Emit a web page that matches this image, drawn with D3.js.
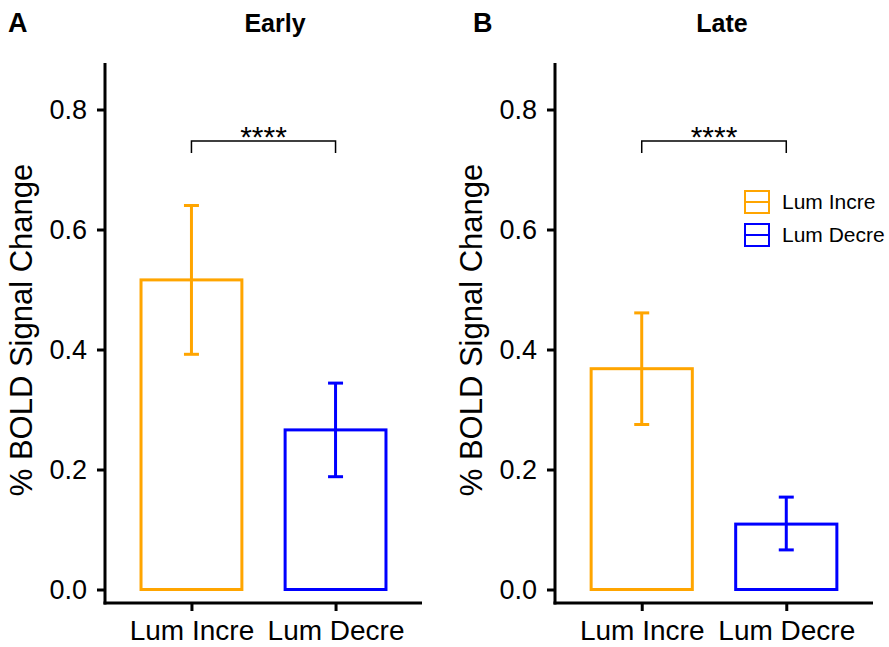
<!DOCTYPE html>
<html>
<head>
<meta charset="utf-8">
<script src="https://cdn.jsdelivr.net/npm/d3@7"></script>
<style>
  body { margin: 0; background: #fff; }
  text { font-family: "Liberation Sans", Arial, sans-serif; }
</style>
</head>
<body>
<div id="chart"></div>
<script>
// Categories and values.
const conditions = ["Lum Incre", "Lum Decre"];
const earlyMean = [0.516, 0.266];
const earlyLow = [0.392, 0.188];
const earlyHigh = [0.640, 0.344];
const lateMean = [0.368, 0.109];
const lateLow = [0.275, 0.066];
const lateHigh = [0.461, 0.154];
const yTicks = [0, 0.2, 0.4, 0.6, 0.8];
const COLORS = ["orange", "blue"];

const WIDTH = 889;
const HEIGHT = 647;

const svg = d3
  .select("#chart")
  .append("svg")
  .attr("width", WIDTH)
  .attr("height", HEIGHT);

// Shared y scale: 0 sits a little above the x axis line.
const y = d3.scaleLinear().domain([-0.0225, 0.8775]).range([603, 63]);

const panels = [
  { letter: "A", letterX: 8, title: "Early", titleX: 275, left: 105, right: 422, mean: earlyMean, low: earlyLow, high: earlyHigh, legend: false },
  { letter: "B", letterX: 473, title: "Late", titleX: 722, left: 555, right: 873, mean: lateMean, low: lateLow, high: lateHigh, legend: true },
];

panels.forEach((p) => drawPanel(p));

function drawPanel(p) {
  const x = d3.scalePoint().domain(conditions).range([p.left, p.right]).padding(0.6);
  const bw = x.step() * 0.7;
  const g = svg.append("g");

  // Letter and title
  g.append("text")
    .attr("x", p.letterX)
    .attr("y", 32)
    .style("font-size", "27px")
    .style("font-weight", "bold")
    .text(p.letter);
  g.append("text")
    .attr("x", p.titleX)
    .attr("y", 32)
    .attr("text-anchor", "middle")
    .style("font-size", "25px")
    .style("font-weight", "bold")
    .text(p.title);

  // Bars
  const data = conditions.map((c, i) => ({ c: c, m: p.mean[i], lo: p.low[i], hi: p.high[i], col: COLORS[i] }));
  g.selectAll("rect.bar")
    .data(data)
    .enter()
    .append("rect")
    .attr("class", "bar")
    .attr("x", (d) => x(d.c) - bw / 2)
    .attr("width", bw)
    .attr("y", (d) => y(d.m))
    .attr("height", (d) => y(0) - y(d.m))
    .style("fill", "none")
    .style("stroke", (d) => d.col)
    .style("stroke-width", 3);

  // Error bars
  const eb = g.selectAll("g.err").data(data).enter().append("g").attr("class", "err");
  eb.append("line")
    .attr("x1", (d) => x(d.c))
    .attr("x2", (d) => x(d.c))
    .attr("y1", (d) => y(d.lo))
    .attr("y2", (d) => y(d.hi));
  eb.append("line")
    .attr("x1", (d) => x(d.c) - 7.5)
    .attr("x2", (d) => x(d.c) + 7.5)
    .attr("y1", (d) => y(d.hi))
    .attr("y2", (d) => y(d.hi));
  eb.append("line")
    .attr("x1", (d) => x(d.c) - 7.5)
    .attr("x2", (d) => x(d.c) + 7.5)
    .attr("y1", (d) => y(d.lo))
    .attr("y2", (d) => y(d.lo));
  eb.selectAll("line").style("stroke", (d) => d.col).style("stroke-width", 3);

  // Axes
  const yAxis = g
    .append("g")
    .attr("transform", "translate(" + p.left + ",0)")
    .call(d3.axisLeft(y).tickValues(yTicks).tickFormat(d3.format(".1f")).tickSize(8).tickSizeOuter(0).tickPadding(10));
  const xAxis = g
    .append("g")
    .attr("transform", "translate(0,603)")
    .call(d3.axisBottom(x).tickSize(8).tickSizeOuter(0).tickPadding(9));
  [yAxis, xAxis].forEach((a) => {
    a.selectAll("path, line").style("stroke", "#000").style("stroke-width", 3);
    a.selectAll("text").style("fill", "#000").style("font-family", "'Liberation Sans', Arial, sans-serif");
  });
  yAxis.selectAll("text").style("font-size", "27px");
  xAxis.selectAll("text").style("font-size", "28px");
  yAxis.select(".domain").attr("d", "M0," + (y.range()[1]) + "V" + (y.range()[0] + 1.5));
  xAxis.select(".domain").attr("d", "M" + (p.left - 1.5) + ",0H" + p.right);

  // Y title
  g.append("text")
    .attr("transform", "translate(" + (p.left - 73) + "," + 330 + ") rotate(-90)")
    .attr("text-anchor", "middle")
    .style("font-size", "31px")
    .text("% BOLD Signal Change");

  // Significance bracket
  const x1 = x(conditions[0]);
  const x2 = x(conditions[1]);
  const by = 141;
  g.append("path")
    .attr("d", "M" + x1 + "," + (by + 12) + "V" + by + "H" + x2 + "V" + (by + 12))
    .style("fill", "none")
    .style("stroke", "#000")
    .style("stroke-width", 1.5);
  g.append("text")
    .attr("x", (x1 + x2) / 2)
    .attr("y", by + 6)
    .attr("text-anchor", "middle")
    .style("font-size", "30px")
    .text("****");

  if (p.legend) drawLegend(g);
}

function drawLegend(g) {
  const items = g
    .selectAll("g.leg")
    .data(conditions)
    .enter()
    .append("g")
    .attr("class", "leg")
    .attr("transform", (d, i) => "translate(745," + (191 + i * 33) + ")");
  items
    .append("rect")
    .attr("width", 24)
    .attr("height", 22)
    .style("fill", "none")
    .style("stroke", (d, i) => COLORS[i])
    .style("stroke-width", 2);
  items
    .append("line")
    .attr("x1", 1)
    .attr("x2", 23)
    .attr("y1", 11)
    .attr("y2", 11)
    .style("stroke", (d, i) => COLORS[i])
    .style("stroke-width", 2);
  items
    .append("text")
    .attr("x", 37)
    .attr("y", 11)
    .attr("dy", "0.35em")
    .style("font-size", "21px")
    .text((d) => d);
}
</script>
</body>
</html>
